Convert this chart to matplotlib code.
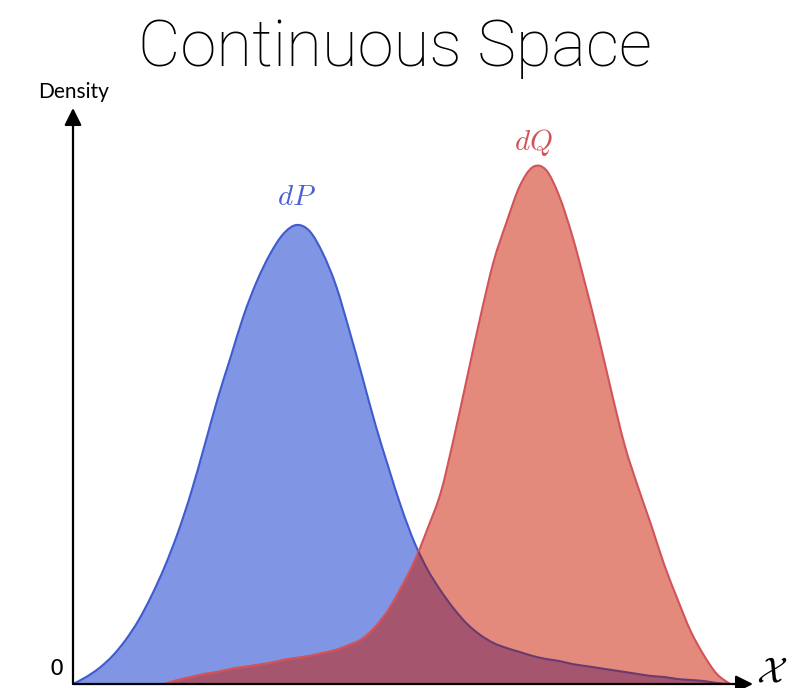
import matplotlib.pyplot as plt
import numpy as np
from matplotlib.path import Path
from matplotlib.patches import PathPatch

plt.rcParams['mathtext.fontset'] = 'cm'

# common x grid (step 0.2) and the two densities read on it
x = np.round(np.arange(0, 10.01, 0.2), 2)
dP = [0, 0.07, 0.16, 0.28, 0.44, 0.64, 0.89, 1.18, 1.52, 1.92,
      2.38, 2.85, 3.27, 3.69, 4.03, 4.30, 4.50, 4.59, 4.53, 4.31,
      3.99, 3.55, 3.08, 2.60, 2.17, 1.76, 1.41, 1.14, 0.93, 0.75,
      0.60, 0.49, 0.41, 0.36, 0.32, 0.28, 0.25, 0.23, 0.20, 0.18,
      0.16, 0.14, 0.12, 0.10, 0.08, 0.07, 0.05, 0.04, 0.03, 0.01, 0]
dQ = [0, 0, 0, 0, 0, 0, 0, 0, 0.04, 0.07,
      0.10, 0.12, 0.15, 0.17, 0.19, 0.21, 0.24, 0.26, 0.28, 0.31,
      0.34, 0.39, 0.45, 0.57, 0.74, 0.97, 1.23, 1.56, 1.92, 2.47,
      3.07, 3.67, 4.22, 4.62, 4.98, 5.17, 5.14, 4.88, 4.48, 3.99,
      3.47, 2.91, 2.38, 1.97, 1.59, 1.19, 0.85, 0.53, 0.29, 0.10, 0]
dP = np.array(dP)
dQ = np.array(dQ)

blue_fill, blue_line = '#8096e4', '#3f5bcf'
red_fill, red_line = '#e38a7d', '#d2545a'
both_fill, both_line = '#a5566e', '#6b3a70'


def curve(xs, ys, closed=False):
    # smooth bezier path through the points (catmull-rom style handles)
    pts = np.column_stack([xs, ys])
    ext = np.vstack([pts[0], pts, pts[-1]])
    verts = [pts[0]]
    codes = [Path.MOVETO]
    for i in range(len(pts) - 1):
        p0, p1, p2, p3 = ext[i], ext[i + 1], ext[i + 2], ext[i + 3]
        verts += [p1 + (p2 - p0) / 6, p2 - (p3 - p1) / 6, p2]
        codes += [Path.CURVE4] * 3
    if closed:
        verts += [(xs[-1], 0), (xs[0], 0), pts[0]]
        codes += [Path.LINETO, Path.LINETO, Path.CLOSEPOLY]
    return Path(verts, codes)


fig = plt.figure(figsize=(8.02, 6.88), dpi=100)
ax = fig.add_axes([73/802, 4/688, 680/802, 576/688])
ax.set_xlim(0, 10.35)
ax.set_ylim(0, 5.76)
ax.axis('off')

start = np.argmax(dQ > 0) - 1
xq, yq = x[start:], dQ[start:]

p_area = ax.add_patch(PathPatch(curve(x, dP, True), fc=blue_fill, lw=0))
ax.add_patch(PathPatch(curve(x, dP), fill=False, ec=blue_line, lw=1.5))
q_area = ax.add_patch(PathPatch(curve(xq, yq, True), fc=red_fill, lw=0))
ax.add_patch(PathPatch(curve(xq, yq), fill=False, ec=red_line, lw=1.5))

# overlap of the two densities
both = ax.add_patch(PathPatch(curve(xq, yq, True), fc=both_fill, lw=0))
both.set_clip_path(p_area)
edge_q = ax.add_patch(PathPatch(curve(xq, yq), fill=False, ec=red_line, lw=1.5))
edge_q.set_clip_path(p_area)
edge_p = ax.add_patch(PathPatch(curve(x, dP), fill=False, ec=both_line, lw=1.5))
edge_p.set_clip_path(q_area)

ax.plot(x[:start + 1], np.zeros(start + 1), color=blue_line, lw=2)
ax.plot(xq, np.zeros(len(xq)), color=red_line, lw=2)

# axes with arrow heads
ax.annotate('', xy=(0, 1), xytext=(0, 0), xycoords='axes fraction',
            arrowprops=dict(arrowstyle='-|>', color='black', lw=1.6,
                            mutation_scale=26, shrinkA=0, shrinkB=0))
ax.annotate('', xy=(1, 0), xytext=(0, 0), xycoords='axes fraction',
            arrowprops=dict(arrowstyle='-|>', color='black', lw=1.6,
                            mutation_scale=26, shrinkA=0, shrinkB=0))

ax.text(x[np.argmax(dP)], dP.max() + 0.28, r'$dP$', color='#4a62cf',
        fontsize=21, ha='center', va='center')
ax.text(x[np.argmax(dQ)], dQ.max() + 0.24, r'$dQ$', color='#d2545a',
        fontsize=21, ha='center', va='center')

fig.text(0.493, 0.904, 'Continuous Space', fontsize=47, family='Roboto',
         weight='light', ha='center', va='baseline')
fig.text(0.092, 0.866, 'Density', fontsize=15, family='Lato',
         ha='center', va='center')
fig.text(0.071, 0.028, '0', fontsize=16, ha='center', va='center')
fig.text(0.962, 0.024, r'$\mathcal{X}$', fontsize=26, ha='center',
         va='center')

fig.savefig('out.png', dpi=100)
